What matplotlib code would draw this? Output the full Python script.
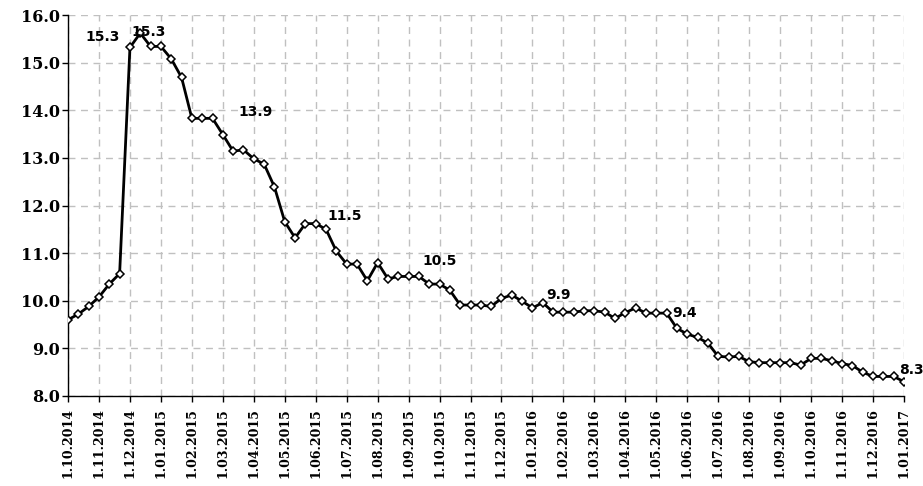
import numpy as np
import matplotlib.pyplot as plt

# decade values (1st, 11th, 21st of each month), 1.10.2014 - 1.01.2017
values = [9.60, 9.72, 9.88, 10.08, 10.35, 10.57, 15.32, 15.62, 15.34, 15.34,
          15.08, 14.69, 13.83, 13.83, 13.83, 13.49, 13.14, 13.17, 12.98, 12.87,
          12.39, 11.66, 11.32, 11.62, 11.62, 11.50, 11.04, 10.77, 10.77, 10.42,
          10.80, 10.46, 10.51, 10.51, 10.51, 10.35, 10.35, 10.22, 9.91, 9.91,
          9.91, 9.88, 10.05, 10.12, 9.99, 9.85, 9.96, 9.76, 9.76, 9.76,
          9.79, 9.79, 9.76, 9.63, 9.75, 9.85, 9.74, 9.74, 9.74, 9.42,
          9.30, 9.23, 9.11, 8.83, 8.82, 8.83, 8.72, 8.70, 8.70, 8.70,
          8.70, 8.65, 8.79, 8.79, 8.74, 8.68, 8.64, 8.50, 8.41, 8.41,
          8.41, 8.30]

month_labels = ["1.10.2014", "1.11.2014", "1.12.2014", "1.01.2015", "1.02.2015",
                "1.03.2015", "1.04.2015", "1.05.2015", "1.06.2015", "1.07.2015",
                "1.08.2015", "1.09.2015", "1.10.2015", "1.11.2015", "1.12.2015",
                "1.01.2016", "1.02.2016", "1.03.2016", "1.04.2016", "1.05.2016",
                "1.06.2016", "1.07.2016", "1.08.2016", "1.09.2016", "1.10.2016",
                "1.11.2016", "1.12.2016", "1.01.2017"]

# labelled points: index into values, and the text shown
label_idx = [6, 7, 18, 25, 34, 46, 59, 81]
label_txt = ["15.3", "15.3", "13.9", "11.5", "10.5", "9.9", "9.4", "8.3"]
label_off = [(-27, 10), (8, 1), (2, 47), (19, 13), (21, 15), (16, 8), (8, 15), (7, 12)]

x = np.arange(len(values)) / 3.0   # in months
month_pos = np.arange(len(month_labels))

fig = plt.figure(figsize=(9.23, 4.86), dpi=100)
ax = fig.add_axes([0.0737, 0.1852, 0.9057, 0.7839])

ax.plot(x, values, color='black', lw=2.0, marker='D', ms=4.3,
        mfc='white', mec='black', mew=1.1, zorder=3)

for i, t, off in zip(label_idx, label_txt, label_off):
    ax.annotate(t, (x[i], values[i]), xytext=off, textcoords='offset pixels',
                ha='center', va='center', fontsize=10, fontweight='bold',
                family='DejaVu Sans', annotation_clip=False, zorder=4)

ax.set_xlim(0, month_pos[-1])
ax.set_ylim(8, 16)
ax.set_yticks(np.arange(8, 16.5, 1))
ax.set_yticklabels(["%.1f" % v for v in np.arange(8, 16.5, 1)])
ax.set_xticks(month_pos)
ax.set_xticklabels(month_labels, rotation=90)

for lab in ax.get_yticklabels():
    lab.set_family('DejaVu Serif')
    lab.set_fontweight('bold')
    lab.set_fontsize(11.5)
for lab in ax.get_xticklabels():
    lab.set_family('DejaVu Serif')
    lab.set_fontweight('bold')
    lab.set_fontsize(9)

ax.tick_params(axis='y', direction='out', length=4.5, width=1, pad=1.5)
ax.tick_params(axis='x', direction='out', length=4.5, width=1, pad=4)

ax.grid(True, color='#c0c0c0', linestyle=(0, (5, 4)), linewidth=1)
ax.set_axisbelow(True)
for s in ['top', 'right']:
    ax.spines[s].set_visible(False)
for s in ['left', 'bottom']:
    ax.spines[s].set_color('black')
    ax.spines[s].set_linewidth(1)

fig.savefig('out.png', dpi=100)
